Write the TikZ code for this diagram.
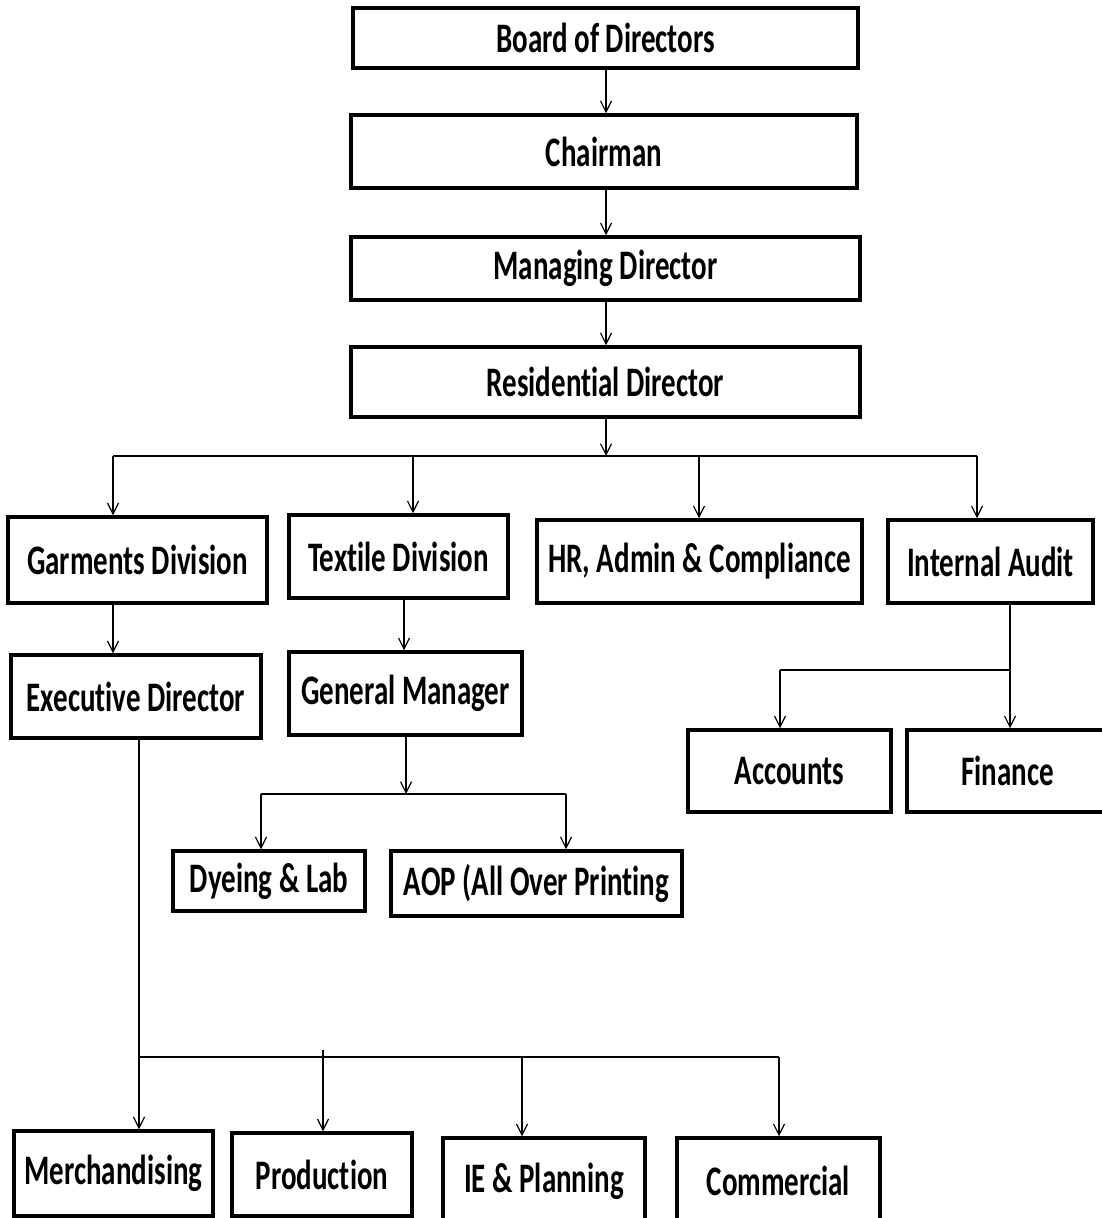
\documentclass[tikz,border=0pt]{standalone}
\usepackage{fontspec}
\setmainfont{Carlito}[FakeStretch=0.69, Ligatures=NoCommon]
\usetikzlibrary{arrows.meta}
\tikzset{
	unit/.style={draw, line width=3.5pt, inner sep=0pt, font=\fontsize{42}{48}\selectfont\bfseries},
	link/.style={line width=1.4pt, -{Straight Barb[length=11pt,width=11pt,line width=1.2pt]}},
	bus/.style={line width=1.4pt}
}
\begin{document}
\begin{tikzpicture}[x=1pt,y=-1pt]
		\useasboundingbox (0,0) rectangle (1102,1218);
		% top chain
		\node[unit, minimum width=505pt, minimum height=60pt] (board) at (605.5,38) {Board of Directors};
		\node[unit, minimum width=506pt, minimum height=73pt] (chair) at (604,151.5) {Chairman};
		\node[unit, minimum width=509pt, minimum height=63pt] (md) at (605.5,268.5) {Managing Director};
		\node[unit, minimum width=509pt, minimum height=70pt] (rd) at (605.5,382) {Residential Director};
		\draw[link] (606,0 |- board.south) -- (606,0 |- chair.north);
		\draw[link] (606,0 |- chair.south) -- (606,0 |- md.north);
		\draw[link] (606,0 |- md.south) -- (606,0 |- rd.north);
		% divisions
		\node[unit, minimum width=259pt, minimum height=86pt] (garm) at (137.5,560) {Garments Division};
		\node[unit, minimum width=219pt, minimum height=83pt] (text) at (398.5,556.5) {Textile Division};
		\node[unit, minimum width=325pt, minimum height=83pt] (hr) at (699.5,561.5) {HR, Admin \& Compliance};
		\node[unit, minimum width=205pt, minimum height=83pt] (audit) at (990.5,561.5) {Internal Audit};
		\coordinate (top) at (606,456);
		\draw[link] (606,0 |- rd.south) -- (top);
		\draw[bus] (113,456) -- (977,456);
		\foreach \x/\n in {113/garm,413/text,699/hr,977/audit}
		{
			\draw[link] (\x,456) -- (\x,0 |- \n.north);
		}
		% second row
		\node[unit, minimum width=250pt, minimum height=83pt] (exec) at (136,696.5) {Executive Director};
		\node[unit, minimum width=233pt, minimum height=83pt] (gm) at (405.5,693.5) {General Manager};
		\draw[link] (113,0 |- garm.south) -- (113,0 |- exec.north);
		\draw[link] (404,0 |- text.south) -- (404,0 |- gm.north);
		% textile units
		\node[unit, minimum width=192pt, minimum height=60pt] (dye) at (269,881) {Dyeing \& Lab};
		\node[unit, minimum width=291pt, minimum height=65pt] (aop) at (536.5,883.5) {AOP (All Over Printing};
		\coordinate (mid) at (406,794);
		\draw[link] (406,0 |- gm.south) -- (mid);
		\draw[bus] (261,794) -- (566,794);
		\draw[link] (261,794) -- (261,0 |- dye.north);
		\draw[link] (566,794) -- (566,0 |- aop.north);
		% audit units
		\node[unit, minimum width=203pt, minimum height=82pt] (acc) at (789.5,771) {Accounts};
		\node[unit, minimum width=201pt, minimum height=82pt] (fin) at (1007.5,771) {Finance};
		\draw[link] (1010,0 |- audit.south) -- (1010,0 |- fin.north);
		\draw[bus] (780,670) -- (1010,670);
		\draw[link] (780,670) -- (780,0 |- acc.north);
		% garment units
		\node[unit, minimum width=199pt, minimum height=85pt] (merch) at (113.5,1173.5) {Merchandising};
		\node[unit, minimum width=180pt, minimum height=83pt] (prod) at (322,1174.5) {Production};
		\node[unit, minimum width=202pt, minimum height=86pt] (ie) at (544,1181) {IE \& Planning};
		\node[unit, minimum width=203pt, minimum height=86pt] (com) at (778.5,1181) {Commercial};
		\draw[link] (139,0 |- exec.south) -- (139,0 |- merch.north);
		\draw[bus] (139,1057) -- (779,1057);
		\draw[link] (323,1050) -- (323,0 |- prod.north);
		\foreach \x/\n in {522/ie,779/com}
		{
			\draw[link] (\x,1057) -- (\x,0 |- \n.north);
		}
\end{tikzpicture}
\end{document}
